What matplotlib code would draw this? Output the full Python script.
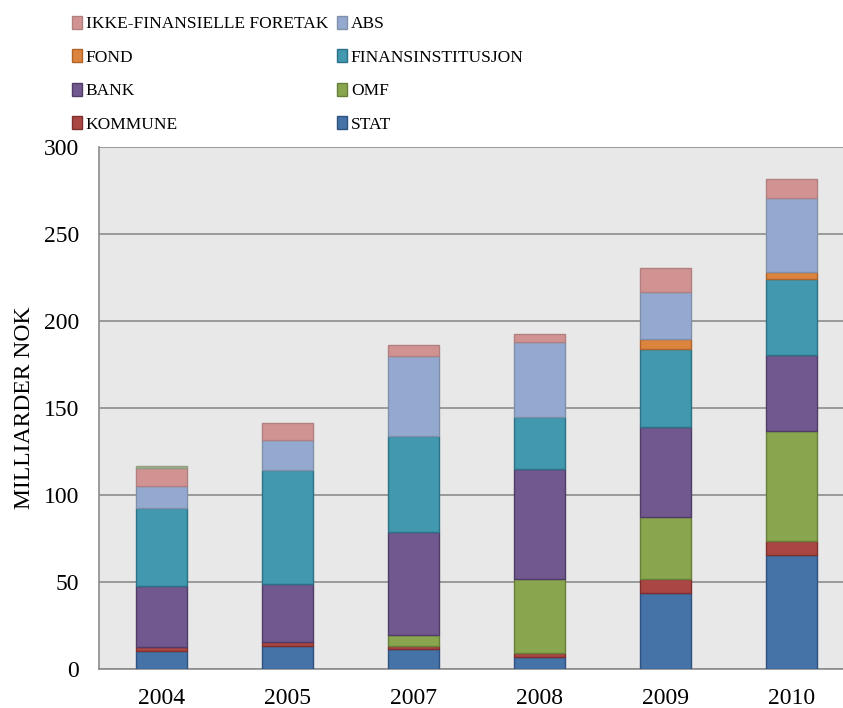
import matplotlib
matplotlib.use('Agg')
import matplotlib.pyplot as plt
from matplotlib.patches import Patch
import numpy as np

# år og sektorer (milliarder NOK, lest av figuren)
years = ['2004', '2005', '2007', '2008', '2009', '2010']
stat = [10.5, 13.5, 11.3, 7.1, 43.5, 65.3]
kommune = [2.0, 2.0, 2.0, 2.0, 8.2, 8.4]
omf = [0.0, 0.0, 6.3, 42.7, 35.5, 63.1]
bank = [35.3, 33.4, 59.4, 63.4, 51.7, 43.7]
finans = [44.6, 65.5, 55.0, 29.9, 44.8, 43.6]
fond = [0.0, 0.0, 0.0, 0.0, 6.0, 4.3]
abs_ = [12.5, 17.2, 45.6, 42.7, 27.2, 42.5]
ikke_fin = [10.5, 10.0, 6.7, 4.6, 13.7, 10.7]
annet = [1.5, 0.0, 0.0, 0.0, 0.0, 0.0]

series = [
    ('STAT', stat, '#4572a7', '#2f5280'),
    ('KOMMUNE', kommune, '#aa4643', '#7f2f2d'),
    ('OMF', omf, '#89a54e', '#66803a'),
    ('BANK', bank, '#71588f', '#4f3d68'),
    ('FINANSINSTITUSJON', finans, '#4198af', '#2c7185'),
    ('FOND', fond, '#db843d', '#b0632a'),
    ('ABS', abs_, '#93a9cf', '#8090aa'),
    ('IKKE-FINANSIELLE FORETAK', ikke_fin, '#d19392', '#b08080'),
    (None, annet, '#a4b48e', '#90a080'),
]

plt.rcParams['font.family'] = ['Liberation Serif', 'DejaVu Serif']

fig = plt.figure(figsize=(8.43, 7.08), dpi=100)
ax = fig.add_axes([98.5 / 843, 39 / 708, 756.5 / 843, 522 / 708])
ax.set_facecolor('#e8e8e8')

x = np.arange(len(years))
bottom = np.zeros(len(years))
handles = {}
for name, vals, col, edge in series:
    vals = np.array(vals)
    m = vals > 0
    # tomme segmenter tegnes ikke (ellers blir det en strek)
    ax.bar(x[m], vals[m], 0.405, bottom=bottom[m], color=col, edgecolor=edge,
           linewidth=1.0, zorder=3)
    bottom += vals
    if name:
        handles[name] = Patch(facecolor=col, edgecolor=edge, linewidth=1.0)

ax.set_xlim(-0.5, 5.5)
ax.set_ylim(0, 300)
ax.set_yticks(range(0, 301, 50))
ax.set_xticks(x)
ax.set_xticklabels(years)
ax.yaxis.grid(True, color='#8c8c8c', linewidth=1.2, zorder=0)
ax.set_axisbelow(True)
ax.tick_params(axis='both', length=0, labelsize=17, colors='black')
ax.tick_params(axis='y', pad=14)
ax.tick_params(axis='x', pad=14)
for s in ['top', 'right']:
    ax.spines[s].set_visible(False)
ax.spines['left'].set_color('#8c8c8c')
ax.spines['bottom'].set_color('#8c8c8c')
ax.spines['left'].set_linewidth(1.2)
ax.spines['bottom'].set_linewidth(1.2)
ax.set_ylabel('MILLIARDER NOK', fontsize=17, labelpad=6)

order = ['IKKE-FINANSIELLE FORETAK', 'FOND', 'BANK', 'KOMMUNE',
         'ABS', 'FINANSINSTITUSJON', 'OMF', 'STAT']
fig.legend([handles[n] for n in order], order, ncol=2, frameon=False,
           loc='upper left', bbox_to_anchor=(72 / 843, 1 - 16 / 708),
           fontsize=12.5, handlelength=0.6, handleheight=0.75,
           handletextpad=0.2, columnspacing=0.5, labelspacing=0.98,
           borderaxespad=0, borderpad=0)

fig.savefig('out.png', dpi=100)
